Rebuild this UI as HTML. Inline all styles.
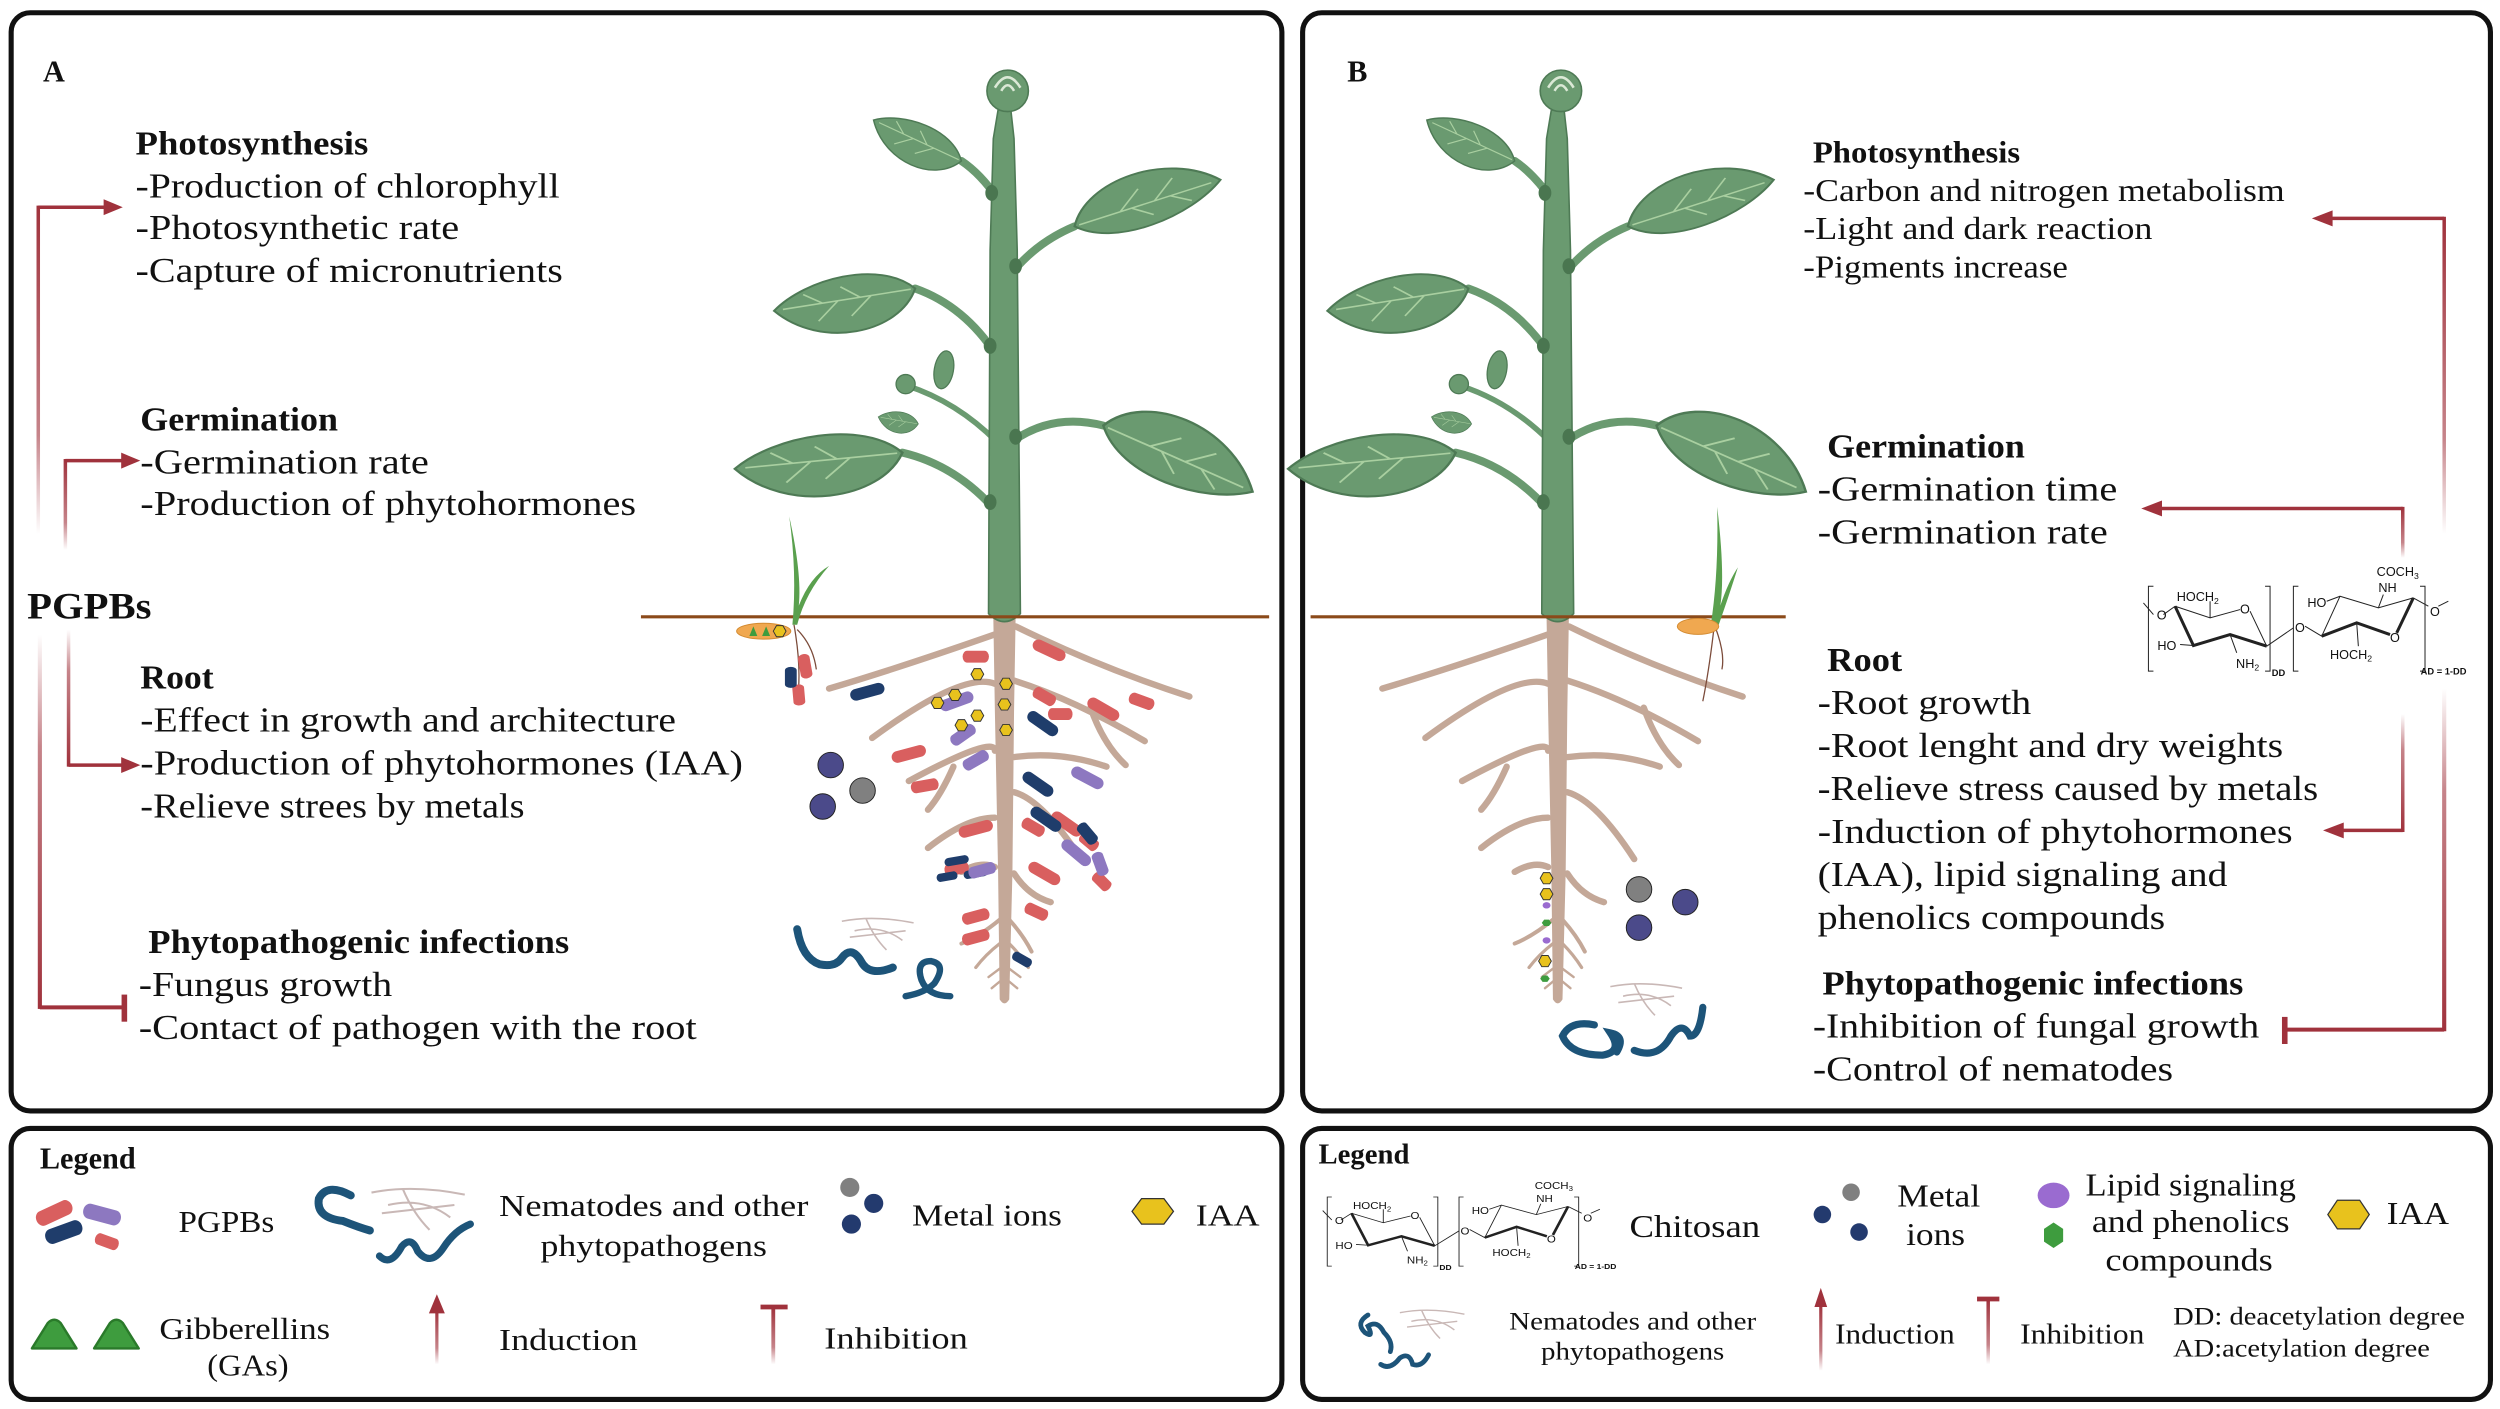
<!DOCTYPE html>
<html><head><meta charset="utf-8"><style>
html,body{margin:0;padding:0;background:#fff;}
svg{display:block;}
text{font-family:"Liberation Serif",serif;fill:#111;}
.b{font-weight:bold;}
.m text{font-family:"Liberation Sans",sans-serif;}
</style></head><body>
<svg width="2500" height="1409" viewBox="0 0 1568 884" preserveAspectRatio="none" xmlns="http://www.w3.org/2000/svg">
<defs>
<linearGradient id="gUp" x1="0" y1="1" x2="0" y2="0"><stop offset="0" stop-color="#a0323c" stop-opacity="0"/><stop offset="0.3" stop-color="#a0323c" stop-opacity="0.6"/><stop offset="1" stop-color="#a0323c"/></linearGradient>
<linearGradient id="gDn" x1="0" y1="0" x2="0" y2="1"><stop offset="0" stop-color="#a0323c" stop-opacity="0"/><stop offset="0.3" stop-color="#a0323c" stop-opacity="0.6"/><stop offset="1" stop-color="#a0323c"/></linearGradient>
<g id="leaf1"><path d="M0,0 C10,-22 46,-24 64,0 C48,14 14,18 0,0Z" fill="#6a9a70" stroke="#4e7a55" stroke-width="1"/><path d="M2,0 L60,0 M20,0 l10,-9 M35,0 l10,-9 M25,0 l8,7 M42,0 l8,6" stroke="#a9cfa0" stroke-width="0.8" fill="none"/></g>
<g id="plant">
 <g stroke="#6a9a70" stroke-width="5" fill="none" stroke-linecap="round">
  <path d="M-4,-262 Q-15,-278 -27,-286"/>
  <path d="M4,-215 Q20,-235 44,-245"/>
  <path d="M-5,-164 Q-25,-195 -56,-206"/>
  <path d="M-5,-66 Q-30,-95 -64,-103"/>
  <path d="M5,-110 Q30,-128 62,-120"/>
  <path d="M-5,-110 Q-30,-135 -61,-145" stroke-width="3.5"/>
 </g>
 <path d="M-10,-2 L-9,-230 L-7,-300 L-4,-318 L4,-318 L6,-300 L8,-230 L10,-2 Q0,8 -10,-2Z" fill="#6a9a70" stroke="#4e7a55" stroke-width="1"/>
 <circle cx="2" cy="-330" r="13" fill="#6a9a70" stroke="#4e7a55" stroke-width="1"/>
 <path d="M-6,-332 Q2,-345 10,-332 M-2,-330 Q2,-337 6,-330" stroke="#dbe9d6" stroke-width="1.6" fill="none"/>
 <g transform="translate(-27,-286) rotate(205) scale(0.95,0.9)"><use href="#leaf1"/></g>
 <g transform="translate(44,-245) rotate(-17.7) scale(1.5,1.15)"><use href="#leaf1"/></g>
 <g transform="translate(-56,-206) rotate(171) scale(1.4,1.2)"><use href="#leaf1"/></g>
 <g transform="translate(-64,-103) rotate(174.5) scale(1.65,1.3)"><use href="#leaf1"/></g>
 <g transform="translate(62,-120) rotate(23.9) scale(1.6,1.4)"><use href="#leaf1"/></g>
 <g transform="translate(-54,-121) rotate(190) scale(0.4,0.45)"><use href="#leaf1"/></g>
 <ellipse cx="-38" cy="-155" rx="6" ry="12" transform="rotate(10 -38 -155)" fill="#6a9a70" stroke="#4e7a55" stroke-width="0.8"/>
 <circle cx="-62" cy="-146" r="6" fill="#6a9a70" stroke="#4e7a55" stroke-width="0.8"/>
 <g fill="#4a7650"><ellipse cx="-8" cy="-266" rx="4" ry="5"/><ellipse cx="7" cy="-220" rx="4" ry="5"/><ellipse cx="-9" cy="-170" rx="4" ry="5"/><ellipse cx="7" cy="-113" rx="4" ry="5"/><ellipse cx="-9" cy="-72" rx="4" ry="5"/></g>
</g>
<g id="roots">
 <g stroke="#c4a898" stroke-width="4" fill="none" stroke-linecap="round">
  <path d="M-6,11 Q-66,32 -110,45"/>
  <path d="M7,6 Q60,32 116,50"/>
  <path d="M-6,42 Q-26,34 -83,76"/>
  <path d="M6,40 Q44,52 88,78"/>
  <path d="M54,57 Q62,80 76,93"/>
  <path d="M-6,84 Q-6,74 -60,103"/>
  <path d="M-32,94 Q-40,112 -48,121"/>
  <path d="M6,88 Q35,84 64,94"/>
  <path d="M-6,126 Q-24,126 -48,145"/>
  <path d="M6,110 Q24,115 48,152"/>
  <path d="M-6,157 Q-15,153 -27,160"/>
  <path d="M6,161 Q15,175 29,179"/>
  <path d="M-3,190 Q-15,200 -27,205" stroke-width="2.5"/>
  <path d="M3,190 Q12,200 17,210" stroke-width="2.5"/>
  <path d="M-3,205 Q-12,212 -18,220" stroke-width="2"/>
  <path d="M3,205 Q10,212 15,220" stroke-width="2"/>
  <path d="M-2,220 l-8,6 M2,220 l8,6 M-2,228 l-6,5 M2,228 l6,5" stroke-width="1.5"/>
 </g>
 <path d="M-7,0 L-6,60 L-4,160 L-3,240 Q0,245 3,240 L5,160 L6,60 L7,0Z" fill="#c4a898"/>
</g>
<g id="bac"><rect x="-11" y="-3.7" width="22" height="7.4" rx="3.7"/></g>
<g id="hex"><polygon points="-4,0 -2,-3.5 2,-3.5 4,0 2,3.5 -2,3.5" fill="#e8c21d" stroke="#333" stroke-width="0.6"/></g>
<g id="nem" fill="none" stroke="#1d5479" stroke-linecap="round">
 <path d="M0,0 Q3,18 14,22 Q24,24 28,18 Q34,10 40,20 Q45,30 60,24" stroke-width="5"/>
 <path d="M68,42 Q80,40 86,34 Q94,22 84,20 Q74,20 78,32 Q82,42 96,42" stroke-width="4"/>
</g>
<g id="fungus" fill="none" stroke="#c9b8b6" stroke-width="1"><path d="M0,4 Q20,0 45,5 M8,10 Q25,6 38,16 M15,2 Q20,14 28,22 M5,14 Q22,12 40,10"/></g>
<g id="mol" class="m" fill="none" stroke="#222" stroke-width="3">
 <path d="M70,200 L55,200 L55,455 L70,455 M405,200 L420,200 L420,455 L405,455 M505,200 L490,200 L490,455 L505,455 M870,200 L885,200 L885,455 L870,455"/>
 <path d="M135,260 L240,295 L330,270 M360,275 L410,380 M240,295 L240,245 M135,260 L100,285 M70,285 L40,250 M190,378 L150,375 M300,345 L320,400 M410,380 L490,325"/>
 <path d="M410,380 L300,345 L190,378 L135,260" stroke-width="9"/>
 <path d="M525,320 L575,350 L630,230 L745,265 L850,235 M630,230 L590,245 M745,265 L760,225 M680,310 L685,380 M850,235 L895,260 M925,260 L955,245"/>
 <path d="M850,235 L800,340 M780,345 L680,310 L575,350" stroke-width="9"/>
 <g stroke="none" fill="#222" font-size="38"><text x="140" y="245">HOCH<tspan font-size="26" dy="8">2</tspan></text><text x="330" y="282">O</text><text x="80" y="300">O</text><text x="82" y="392">HO</text><text x="318" y="445">NH<tspan font-size="26" dy="8">2</tspan></text><text x="425" y="470" font-size="28" font-weight="bold">DD</text><text x="495" y="338">O</text><text x="532" y="262">HO</text><text x="745" y="218">NH</text><text x="740" y="170">COCH<tspan font-size="26" dy="8">3</tspan></text><text x="600" y="418">HOCH<tspan font-size="26" dy="8">2</tspan></text><text x="780" y="368">O</text><text x="900" y="290">O</text><text x="872" y="465" font-size="28" font-weight="bold">AD = 1-DD</text></g>
</g>
</defs>

<g fill="none" stroke="#111" stroke-width="3.2">
<rect x="7" y="8" width="797" height="689" rx="12"/>
<rect x="817" y="8" width="745" height="689" rx="12"/>
<rect x="7" y="708" width="797" height="170" rx="12"/>
<rect x="817" y="708" width="745" height="170" rx="12"/>
</g>

<!-- ===== PANEL A ===== -->
<text x="27" y="51" class="b" font-size="19">A</text>
<text x="85" y="97" class="b" font-size="21" textLength="146" lengthAdjust="spacingAndGlyphs">Photosynthesis</text>
<g font-size="22">
<text x="85" y="124" textLength="266" lengthAdjust="spacingAndGlyphs">-Production of chlorophyll</text>
<text x="85" y="150" textLength="203" lengthAdjust="spacingAndGlyphs">-Photosynthetic rate</text>
<text x="85" y="177" textLength="268" lengthAdjust="spacingAndGlyphs">-Capture of micronutrients</text>
<text x="88" y="270" class="b" font-size="21" textLength="124" lengthAdjust="spacingAndGlyphs">Germination</text>
<text x="88" y="297" textLength="181" lengthAdjust="spacingAndGlyphs">-Germination rate</text>
<text x="88" y="323" textLength="311" lengthAdjust="spacingAndGlyphs">-Production of phytohormones</text>
<text x="17" y="388" class="b" font-size="23" textLength="78" lengthAdjust="spacingAndGlyphs">PGPBs</text>
<text x="88" y="432" class="b" font-size="21" textLength="46" lengthAdjust="spacingAndGlyphs">Root</text>
<text x="88" y="459" textLength="336" lengthAdjust="spacingAndGlyphs">-Effect in growth and architecture</text>
<text x="88" y="486" textLength="378" lengthAdjust="spacingAndGlyphs">-Production of phytohormones (IAA)</text>
<text x="88" y="513" textLength="241" lengthAdjust="spacingAndGlyphs">-Relieve strees by metals</text>
<text x="93" y="598" class="b" font-size="21" textLength="264" lengthAdjust="spacingAndGlyphs">Phytopathogenic infections</text>
<text x="87" y="625" textLength="159" lengthAdjust="spacingAndGlyphs">-Fungus growth</text>
<text x="87" y="652" textLength="350" lengthAdjust="spacingAndGlyphs">-Contact of pathogen with the root</text>
</g>
<!-- arrows A -->
<rect x="22.9" y="129" width="2.2" height="206" fill="url(#gUp)"/>
<rect x="39.9" y="288" width="2.2" height="57" fill="url(#gUp)"/>
<rect x="41.9" y="395" width="2.2" height="86" fill="url(#gDn)"/>
<rect x="23.7" y="398" width="2.6" height="235" fill="url(#gDn)"/>
<g fill="none" stroke="#a0323c" stroke-width="2.2">
<path d="M24,130 L66,130"/>
<path d="M41,289 L77,289"/>
<path d="M43,480 L77,480"/>
<path d="M25,632 L77,632" stroke-width="2.5"/>
<path d="M78,624 L78,641" stroke-width="3.5"/>
</g>
<g fill="#a0323c"><polygon points="77,130 65,125 65,135"/><polygon points="88,289 76,284 76,294"/><polygon points="88,480 76,475 76,485"/></g>

<g transform="translate(630,387)"><use href="#roots"/></g>
<g transform="translate(630,387)"><use href="#plant"/></g>
<line x1="402" y1="387" x2="796" y2="387" stroke="#8b4a1a" stroke-width="2"/>
<path d="M497,392 Q500,360 495,324 Q503,360 501,380 Q508,362 520,355 Q505,372 500,392Z" fill="#5aa04e"/>
<path d="M498,392 Q503,420 500,440 M500,395 Q510,405 512,420" stroke="#7b4b3a" stroke-width="0.8" fill="none"/>
<ellipse cx="479" cy="396" rx="17" ry="5" fill="#f0a850" stroke="#d38a30" stroke-width="0.6"/>
<path d="M470,399 l2.5,-6 l2.5,6Z M478,399 l2.5,-6 l2.5,6Z" fill="#3e9c3e"/>
<g transform="translate(489,396)"><use href="#hex"/></g>
<g>
<g fill="#d95f5f">
<use href="#bac" transform="translate(505,418) rotate(80) scale(0.7,1)"/>
<use href="#bac" transform="translate(501,436) rotate(85) scale(0.6,1)"/>
<use href="#bac" transform="translate(570,473) rotate(-15)"/>
<use href="#bac" transform="translate(612,412) scale(0.75,1)"/>
<use href="#bac" transform="translate(658,408) rotate(25)"/>
<use href="#bac" transform="translate(655,437) rotate(30) scale(0.7,1)"/>
<use href="#bac" transform="translate(665,448) scale(0.7,1)"/>
<use href="#bac" transform="translate(692,445) rotate(30)"/>
<use href="#bac" transform="translate(716,440) rotate(20) scale(0.75,1)"/>
<use href="#bac" transform="translate(580,493) rotate(-10) scale(0.8,1)"/>
<use href="#bac" transform="translate(612,520) rotate(-15)"/>
<use href="#bac" transform="translate(669,517) rotate(35)"/>
<use href="#bac" transform="translate(683,528) rotate(40) scale(0.6,1)"/>
<use href="#bac" transform="translate(691,553) rotate(45) scale(0.6,1)"/>
<use href="#bac" transform="translate(655,548) rotate(30)"/>
<use href="#bac" transform="translate(612,575) rotate(-15) scale(0.8,1)"/>
<use href="#bac" transform="translate(650,572) rotate(25) scale(0.7,1)"/>
<use href="#bac" transform="translate(612,588) rotate(-15) scale(0.8,1)"/>
<use href="#bac" transform="translate(600,545) rotate(-10) scale(0.7,1)"/>
<use href="#bac" transform="translate(648,519) rotate(30) scale(0.7,1)"/>
</g>
<g fill="#1f3d6b">
<use href="#bac" transform="translate(496,425) rotate(90) scale(0.6,1)"/>
<use href="#bac" transform="translate(544,434) rotate(-15)"/>
<use href="#bac" transform="translate(654,454) rotate(35)"/>
<use href="#bac" transform="translate(651,492) rotate(35)"/>
<use href="#bac" transform="translate(656,514) rotate(35)"/>
<use href="#bac" transform="translate(682,523) rotate(50) scale(0.7,1)"/>
<use href="#bac" transform="translate(600,540) rotate(-10) scale(0.7,0.7)"/>
<use href="#bac" transform="translate(612,548) rotate(-10) scale(0.7,0.7)"/>
<use href="#bac" transform="translate(594,550) rotate(-10) scale(0.6,0.7)"/>
<use href="#bac" transform="translate(641,602) rotate(30) scale(0.6,0.8)"/>
</g>
<g fill="#8d78c0">
<use href="#bac" transform="translate(600,440) rotate(-20)"/>
<use href="#bac" transform="translate(604,461) rotate(-35) scale(0.8,1)"/>
<use href="#bac" transform="translate(612,477) rotate(-30) scale(0.8,1)"/>
<use href="#bac" transform="translate(682,488) rotate(28)"/>
<use href="#bac" transform="translate(675,535) rotate(40)"/>
<use href="#bac" transform="translate(690,542) rotate(70) scale(0.7,1)"/>
<use href="#bac" transform="translate(616,546) rotate(-15) scale(0.8,1)"/>
</g>
<use href="#hex" transform="translate(599,436)"/><use href="#hex" transform="translate(613,423)"/><use href="#hex" transform="translate(631,429)"/><use href="#hex" transform="translate(630,442)"/><use href="#hex" transform="translate(631,458)"/><use href="#hex" transform="translate(613,449)"/><use href="#hex" transform="translate(588,441)"/><use href="#hex" transform="translate(603,455)"/>
</g>
<circle cx="521" cy="480" r="8" fill="#4b4a8a" stroke="#222" stroke-width="0.6"/>
<circle cx="541" cy="496" r="8" fill="#808080" stroke="#222" stroke-width="0.6"/>
<circle cx="516" cy="506" r="8" fill="#4b4a8a" stroke="#222" stroke-width="0.6"/>
<g transform="translate(500,583)"><use href="#nem"/></g>
<g transform="translate(528,574)"><use href="#fungus"/></g>

<!-- ===== PANEL B ===== -->
<text x="845" y="51" class="b" font-size="19">B</text>
<text x="1137" y="102" class="b" font-size="19" textLength="130" lengthAdjust="spacingAndGlyphs">Photosynthesis</text>
<text x="1131" y="126" font-size="20" textLength="302" lengthAdjust="spacingAndGlyphs">-Carbon and nitrogen metabolism</text>
<text x="1131" y="150" font-size="20" textLength="219" lengthAdjust="spacingAndGlyphs">-Light and dark reaction</text>
<text x="1131" y="174" font-size="20" textLength="166" lengthAdjust="spacingAndGlyphs">-Pigments increase</text>
<g font-size="22">
<text x="1146" y="287" class="b" font-size="21" textLength="124" lengthAdjust="spacingAndGlyphs">Germination</text>
<text x="1140" y="314" textLength="188" lengthAdjust="spacingAndGlyphs">-Germination time</text>
<text x="1140" y="341" textLength="182" lengthAdjust="spacingAndGlyphs">-Germination rate</text>
<text x="1146" y="421" class="b" font-size="21" textLength="47" lengthAdjust="spacingAndGlyphs">Root</text>
<text x="1140" y="448" textLength="134" lengthAdjust="spacingAndGlyphs">-Root growth</text>
<text x="1140" y="475" textLength="292" lengthAdjust="spacingAndGlyphs">-Root lenght and dry weights</text>
<text x="1140" y="502" textLength="314" lengthAdjust="spacingAndGlyphs">-Relieve stress caused by metals</text>
<text x="1140" y="529" textLength="298" lengthAdjust="spacingAndGlyphs">-Induction of phytohormones</text>
<text x="1140" y="556" textLength="257" lengthAdjust="spacingAndGlyphs">(IAA), lipid signaling and</text>
<text x="1140" y="583" textLength="218" lengthAdjust="spacingAndGlyphs">phenolics compounds</text>
<text x="1143" y="624" class="b" font-size="21" textLength="264" lengthAdjust="spacingAndGlyphs">Phytopathogenic infections</text>
<text x="1137" y="651" textLength="280" lengthAdjust="spacingAndGlyphs">-Inhibition of fungal growth</text>
<text x="1137" y="678" textLength="226" lengthAdjust="spacingAndGlyphs">-Control of nematodes</text>
</g>
<!-- arrows B -->
<rect x="1531.9" y="136" width="2.2" height="199" fill="url(#gUp)"/>
<rect x="1505.9" y="318" width="2.2" height="32" fill="url(#gUp)"/>
<rect x="1505.9" y="448" width="2.2" height="74" fill="url(#gDn)"/>
<rect x="1531.7" y="432" width="2.6" height="215" fill="url(#gDn)"/>
<g fill="none" stroke="#a0323c" stroke-width="2.2">
<path d="M1533,137 L1460,137"/>
<path d="M1507,319 L1352,319"/>
<path d="M1507,521 L1468,521"/>
<path d="M1533,646 L1433,646" stroke-width="2.5"/>
<path d="M1433,638 L1433,655" stroke-width="3.5"/>
</g>
<g fill="#a0323c"><polygon points="1450,137 1463,132 1463,142"/><polygon points="1343,319 1356,314 1356,324"/><polygon points="1457,521 1470,516 1470,526"/></g>
<g transform="translate(1336,326) scale(0.209)"><use href="#mol"/></g>

<g transform="translate(977,387)"><use href="#roots"/></g>
<g transform="translate(977,387)"><use href="#plant"/></g>
<line x1="822" y1="387" x2="1120" y2="387" stroke="#8b4a1a" stroke-width="2"/>
<path d="M1073,392 Q1078,360 1077,318 Q1082,360 1079,380 Q1084,365 1090,356 Q1085,372 1078,392Z" fill="#5aa04e"/>
<path d="M1075,394 Q1072,420 1068,440 M1076,394 Q1082,410 1080,420" stroke="#7b4b3a" stroke-width="0.8" fill="none"/>
<ellipse cx="1065" cy="393" rx="13" ry="5" fill="#f0a850" stroke="#d38a30" stroke-width="0.6"/>
<use href="#hex" transform="translate(970,551)"/><use href="#hex" transform="translate(970,561)"/>
<ellipse cx="970" cy="568" rx="2.5" ry="2" fill="#9a6bd0"/>
<polygon points="967,579 968.5,577 971.5,577 973,579 971.5,581 968.5,581" fill="#3e9c3e"/>
<ellipse cx="970" cy="590" rx="2.5" ry="2" fill="#9a6bd0"/>
<use href="#hex" transform="translate(969,603)"/>
<polygon points="966,614 967.5,612 970.5,612 972,614 970.5,616 967.5,616" fill="#3e9c3e"/>
<circle cx="1028" cy="558" r="8" fill="#808080" stroke="#222" stroke-width="0.6"/>
<circle cx="1057" cy="566" r="8" fill="#4b4a8a" stroke="#222" stroke-width="0.6"/>
<circle cx="1028" cy="582" r="8" fill="#4b4a8a" stroke="#222" stroke-width="0.6"/>
<g transform="translate(1010,615)"><use href="#fungus"/></g>
<g fill="none" stroke="#1d5479" stroke-linecap="round">
<path d="M1000,643 Q985,640 980,650 Q985,662 1005,662 Q1018,660 1010,648 Q1020,650 1014,660" stroke-width="4.5"/>
<path d="M1025,659 Q1040,665 1048,650 Q1055,640 1060,650 Q1066,650 1068,632" stroke-width="4.5"/>
</g>

<!-- ===== LEGEND A ===== -->
<text x="25" y="733" class="b" font-size="19">Legend</text>
<g fill="#d95f5f"><use href="#bac" transform="translate(34,761) rotate(-25) scale(1.1,1.3)"/><use href="#bac" transform="translate(67,779) rotate(20) scale(0.7,1)"/></g>
<use href="#bac" fill="#8d78c0" transform="translate(64,762) rotate(15) scale(1.1,1.3)"/>
<use href="#bac" fill="#1f3d6b" transform="translate(40,773) rotate(-20) scale(1.1,1.3)"/>
<text x="112" y="773" font-size="19" textLength="60" lengthAdjust="spacingAndGlyphs">PGPBs</text>
<g fill="none" stroke="#1d5479" stroke-linecap="round" stroke-width="5">
<path d="M220,750 Q205,742 200,752 Q198,764 215,766 Q225,770 232,772"/>
<path d="M238,788 Q245,795 252,782 Q258,775 262,785 Q270,795 278,783 Q285,772 295,768" stroke-width="4.5"/>
</g>
<g transform="translate(233,743) scale(1.3)"><use href="#fungus"/></g>
<text x="410" y="763" font-size="19" text-anchor="middle" textLength="194" lengthAdjust="spacingAndGlyphs">Nematodes and other</text>
<text x="410" y="788" font-size="19" text-anchor="middle" textLength="142" lengthAdjust="spacingAndGlyphs">phytopathogens</text>
<circle cx="533" cy="745" r="6" fill="#808080"/><circle cx="548" cy="755" r="6" fill="#233a6e"/><circle cx="534" cy="768" r="6" fill="#233a6e"/>
<text x="572" y="769" font-size="19" textLength="94" lengthAdjust="spacingAndGlyphs">Metal ions</text>
<polygon points="710,760 716,752 730,752 736,760 730,768 716,768" fill="#e8c21d" stroke="#333" stroke-width="0.8"/>
<text x="750" y="769" font-size="19" textLength="40" lengthAdjust="spacingAndGlyphs">IAA</text>
<path d="M20,846 L30,830 Q34,826 38,830 L48,846 Z" fill="#3e9c3e" stroke="#2a7a2a" stroke-width="1.5" stroke-linejoin="round"/>
<path d="M59,846 L69,830 Q73,826 77,830 L87,846 Z" fill="#3e9c3e" stroke="#2a7a2a" stroke-width="1.5" stroke-linejoin="round"/>
<text x="100" y="840" font-size="19" textLength="107" lengthAdjust="spacingAndGlyphs">Gibberellins</text>
<text x="130" y="863" font-size="19" textLength="51" lengthAdjust="spacingAndGlyphs">(GAs)</text>
<rect x="273" y="822" width="2" height="34" fill="url(#gUp)"/>
<polygon points="274,812 269,824 279,824" fill="#a0323c"/>
<text x="313" y="847" font-size="19" textLength="87" lengthAdjust="spacingAndGlyphs">Induction</text>
<rect x="483.8" y="820" width="2.4" height="36" fill="url(#gUp)"/>
<line x1="477" y1="820" x2="494" y2="820" stroke="#a0323c" stroke-width="3"/>
<text x="517" y="846" font-size="19" textLength="90" lengthAdjust="spacingAndGlyphs">Inhibition</text>

<!-- ===== LEGEND B ===== -->
<text x="827" y="730" class="b" font-size="18">Legend</text>
<g transform="translate(822,717) scale(0.19,0.17)"><use href="#mol"/></g>
<text x="1022" y="776" font-size="20" textLength="82" lengthAdjust="spacingAndGlyphs">Chitosan</text>
<circle cx="1143" cy="762" r="5.5" fill="#233a6e"/><circle cx="1161" cy="748" r="5.5" fill="#808080"/><circle cx="1166" cy="773" r="5.5" fill="#233a6e"/>
<text x="1216" y="757" font-size="20" text-anchor="middle" textLength="52" lengthAdjust="spacingAndGlyphs">Metal</text>
<text x="1214" y="781" font-size="20" text-anchor="middle" textLength="37" lengthAdjust="spacingAndGlyphs">ions</text>
<ellipse cx="1288" cy="750" rx="10" ry="8" fill="#9a6bd0"/>
<polygon points="1288,767 1294,771 1294,779 1288,783 1282,779 1282,771" fill="#3e9c3e"/>
<text x="1374" y="750" font-size="20" text-anchor="middle" textLength="132" lengthAdjust="spacingAndGlyphs">Lipid signaling</text>
<text x="1374" y="773" font-size="20" text-anchor="middle" textLength="124" lengthAdjust="spacingAndGlyphs">and phenolics</text>
<text x="1373" y="797" font-size="20" text-anchor="middle" textLength="105" lengthAdjust="spacingAndGlyphs">compounds</text>
<polygon points="1460,762 1466,753 1480,753 1486,762 1480,771 1466,771" fill="#e8c21d" stroke="#333" stroke-width="0.8"/>
<text x="1497" y="768" font-size="20" textLength="39" lengthAdjust="spacingAndGlyphs">IAA</text>
<g fill="none" stroke="#1d5479" stroke-linecap="round" stroke-width="3">
<path d="M858,825 Q850,830 856,836 Q862,840 858,832 Q864,828 868,836 Q874,842 872,848"/>
<path d="M866,856 Q872,860 878,852 Q884,848 886,856 Q892,858 896,850"/>
</g>
<g transform="translate(878,820) scale(0.9)"><use href="#fungus"/></g>
<text x="1024" y="834" font-size="16" text-anchor="middle" textLength="155" lengthAdjust="spacingAndGlyphs">Nematodes and other</text>
<text x="1024" y="853" font-size="16" text-anchor="middle" textLength="115" lengthAdjust="spacingAndGlyphs">phytopathogens</text>
<rect x="1141" y="818" width="2" height="42" fill="url(#gUp)"/>
<polygon points="1142,808 1138,820 1146,820" fill="#a0323c"/>
<text x="1151" y="843" font-size="18" textLength="75" lengthAdjust="spacingAndGlyphs">Induction</text>
<rect x="1245.9" y="815" width="2.2" height="41" fill="url(#gUp)"/>
<line x1="1240" y1="815" x2="1254" y2="815" stroke="#a0323c" stroke-width="3"/>
<text x="1267" y="843" font-size="18" textLength="78" lengthAdjust="spacingAndGlyphs">Inhibition</text>
<text x="1363" y="831" font-size="16" textLength="183" lengthAdjust="spacingAndGlyphs">DD: deacetylation degree</text>
<text x="1363" y="851" font-size="16" textLength="161" lengthAdjust="spacingAndGlyphs">AD:acetylation degree</text>
</svg>
</body></html>
